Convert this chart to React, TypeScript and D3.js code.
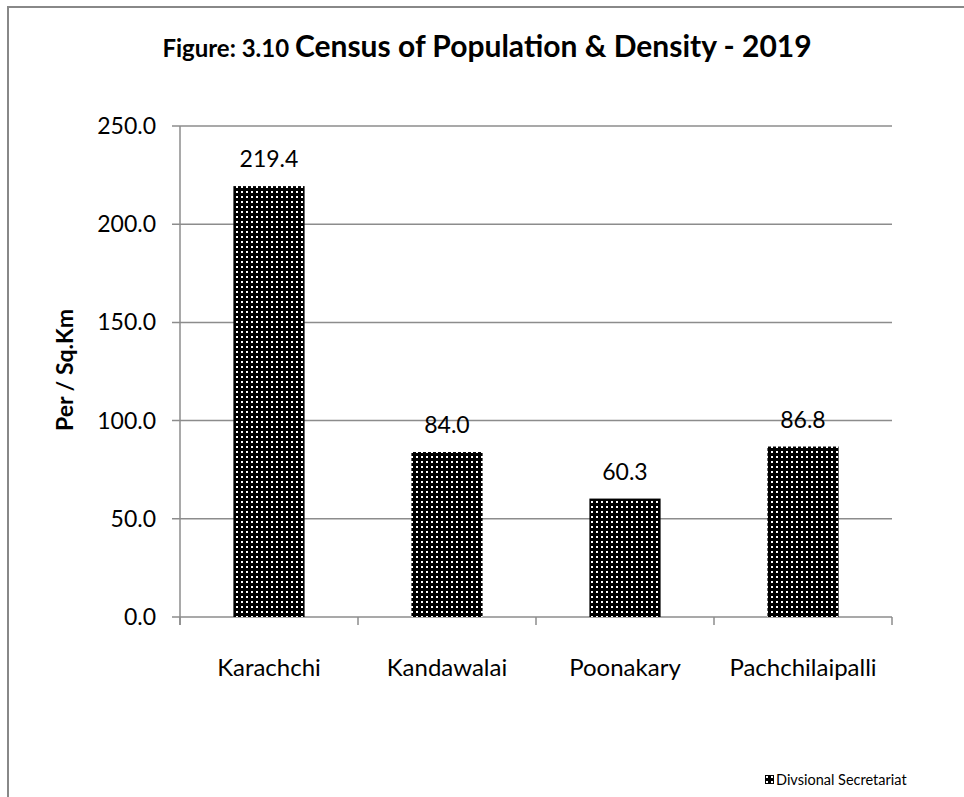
import React, { useRef, useEffect } from "react";
import * as d3 from "d3";

const categories = ["Karachchi", "Kandawalai", "Poonakary", "Pachchilaipalli"];
const densities = [219.4, 84.0, 60.3, 86.8];
const yTicks = [0, 50, 100, 150, 200, 250];
const seriesName = "Divsional Secretariat";

const FONT = "Lato, 'Open Sans', sans-serif";

const App: React.FC = () => {
  const svgRef = useRef<SVGSVGElement | null>(null);

  useEffect(() => {
    if (!svgRef.current) return;
    const svg = d3.select(svgRef.current);
    svg.selectAll("*").remove();

    const left = 180;
    const right = 892;
    const top = 126;
    const bottom = 617;

    // pattern fill like the excel dotted grid
    const defs = svg.append("defs");
    const pat = defs
      .append("pattern")
      .attr("id", "dots")
      .attr("patternUnits", "userSpaceOnUse")
      .attr("width", 5)
      .attr("height", 5);
    pat.append("rect").attr("width", 5).attr("height", 5).attr("fill", "#000");
    pat.append("rect").attr("x", 1).attr("y", 1).attr("width", 2).attr("height", 2).attr("fill", "#fff");

    // outer frame (bottom and right run past the window)
    svg
      .append("rect")
      .attr("x", 8)
      .attr("y", 7)
      .attr("width", 1000)
      .attr("height", 900)
      .attr("fill", "none")
      .attr("stroke", "#888")
      .attr("stroke-width", 2);

    const x = d3.scaleBand<string>().domain(categories).range([left, right]).paddingInner(0.6).paddingOuter(0.3);
    const y = d3.scaleLinear().domain([0, 250]).range([bottom, top]);

    // gridlines
    svg
      .append("g")
      .selectAll("line")
      .data(yTicks)
      .enter()
      .append("line")
      .attr("x1", left - 8)
      .attr("x2", right)
      .attr("y1", (d) => y(d))
      .attr("y2", (d) => y(d))
      .attr("stroke", "#8c8c8c")
      .attr("stroke-width", 1.5);

    // y axis line
    svg
      .append("line")
      .attr("x1", left)
      .attr("x2", left)
      .attr("y1", top)
      .attr("y2", bottom + 8)
      .attr("stroke", "#8c8c8c")
      .attr("stroke-width", 1.5);

    // category ticks
    const catTicks = d3.range(categories.length + 1).map((i) => left + (i * (right - left)) / categories.length);
    svg
      .append("g")
      .selectAll("line")
      .data(catTicks)
      .enter()
      .append("line")
      .attr("x1", (d) => d)
      .attr("x2", (d) => d)
      .attr("y1", bottom)
      .attr("y2", bottom + 8)
      .attr("stroke", "#8c8c8c")
      .attr("stroke-width", 1.5);

    // y tick labels
    svg
      .append("g")
      .selectAll("text")
      .data(yTicks)
      .enter()
      .append("text")
      .attr("x", 156)
      .attr("y", (d) => y(d))
      .attr("dy", "0.35em")
      .attr("text-anchor", "end")
      .attr("font-family", FONT)
      .attr("font-size", 23)
      .text((d) => d.toFixed(1));

    // bars
    svg
      .append("g")
      .selectAll("rect")
      .data(densities)
      .enter()
      .append("rect")
      .attr("x", (_, i) => x(categories[i])!)
      .attr("y", (d) => y(d))
      .attr("width", x.bandwidth())
      .attr("height", (d) => bottom - y(d))
      .attr("fill", "url(#dots)");

    // value labels
    svg
      .append("g")
      .selectAll("text")
      .data(densities)
      .enter()
      .append("text")
      .attr("x", (_, i) => x(categories[i])! + x.bandwidth() / 2)
      .attr("y", (d) => y(d) - 19)
      .attr("text-anchor", "middle")
      .attr("font-family", FONT)
      .attr("font-size", 23)
      .text((d) => d.toFixed(1));

    // category labels
    svg
      .append("g")
      .selectAll("text")
      .data(categories)
      .enter()
      .append("text")
      .attr("x", (d) => x(d)! + x.bandwidth() / 2)
      .attr("y", 676)
      .attr("text-anchor", "middle")
      .attr("font-family", FONT)
      .attr("font-size", 24)
      .text((d) => d);

    // title
    const title = svg
      .append("text")
      .attr("x", 487)
      .attr("y", 57)
      .attr("text-anchor", "middle")
      .attr("font-family", FONT)
      .attr("font-weight", "bold");
    title.append("tspan").attr("font-size", 24).text("Figure: 3.10 ");
    title.append("tspan").attr("font-size", 30).text("Census of Population & Density - 2019");

    // y axis title
    svg
      .append("text")
      .attr("transform", "translate(73,370) rotate(-90)")
      .attr("text-anchor", "middle")
      .attr("font-family", FONT)
      .attr("font-weight", "bold")
      .attr("font-size", 23)
      .text("Per / Sq.Km");

    // legend
    svg
      .append("rect")
      .attr("x", 765)
      .attr("y", 775)
      .attr("width", 9)
      .attr("height", 9)
      .attr("fill", "url(#dots)");
    svg
      .append("text")
      .attr("x", 776)
      .attr("y", 785)
      .attr("font-family", FONT)
      .attr("font-size", 14.5)
      .text(seriesName);
  }, []);

  return (
    <svg
      ref={svgRef}
      width={964}
      height={797}
      style={{ position: "absolute", left: 0, top: 0, background: "#fff" }}
    ></svg>
  );
};

export default App;
